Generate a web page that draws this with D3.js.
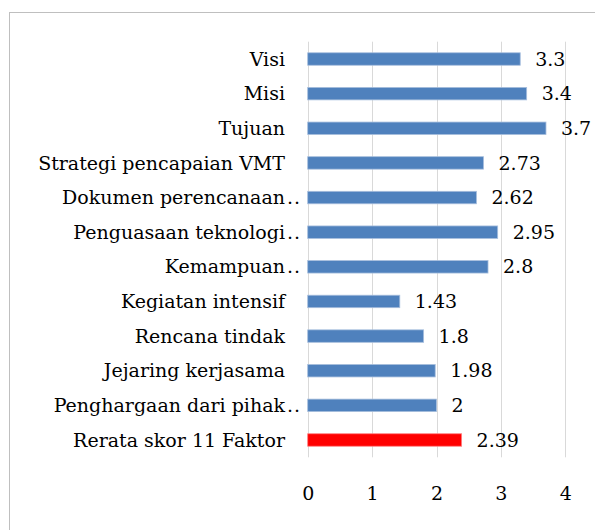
<!DOCTYPE html>
<html>
<head>
<meta charset="utf-8">
<script src="https://cdn.jsdelivr.net/npm/d3@7"></script>
<style>
  body { margin: 0; background: #fff; }
</style>
</head>
<body>
<script>
var categories = ["Visi", "Misi", "Tujuan", "Strategi pencapaian VMT", "Dokumen perencanaan..",
                  "Penguasaan teknologi..", "Kemampuan..", "Kegiatan intensif", "Rencana tindak",
                  "Jejaring kerjasama", "Penghargaan dari pihak..", "Rerata skor 11 Faktor"];
var values = [3.3, 3.4, 3.7, 2.73, 2.62, 2.95, 2.8, 1.43, 1.8, 1.98, 2, 2.39];
var valueLabels = ["3.3", "3.4", "3.7", "2.73", "2.62", "2.95", "2.8", "1.43", "1.8", "1.98", "2", "2.39"];
var ticks = [0, 1, 2, 3, 4];

var fontFam = "'DejaVu Serif', serif";
var fontSize = "19px";

var svg = d3.select("body").append("svg")
    .attr("width", 595)
    .attr("height", 530)
    .style("font-family", fontFam);

// chart frame (runs past the right and bottom edge)
svg.append("rect")
    .attr("x", 9.5).attr("y", 12.5)
    .attr("width", 620).attr("height", 560)
    .attr("fill", "#fff")
    .attr("stroke", "#bfbfbf");

var x = d3.scaleLinear().domain([0, 4]).range([307.7, 565.3]);
var y = d3.scaleBand().domain(categories).range([41.7, 457.3]).paddingInner(0.64).paddingOuter(0.32);

// gridlines
svg.selectAll("line.grid")
    .data(ticks)
    .enter().append("line")
        .attr("class", "grid")
        .attr("x1", function(d) { return Math.round(x(d)) + 0.5; })
        .attr("x2", function(d) { return Math.round(x(d)) + 0.5; })
        .attr("y1", 41.7)
        .attr("y2", 457.3)
        .attr("stroke", "#d9d9d9");

// bars
svg.selectAll("rect.bar")
    .data(values)
    .enter().append("rect")
        .attr("class", "bar")
        .attr("x", x(0))
        .attr("y", function(d, i) { return y(categories[i]); })
        .attr("width", function(d) { return x(d) - x(0); })
        .attr("height", y.bandwidth())
        .attr("fill", function(d, i) { return i == values.length - 1 ? "#ff0000" : "#4f81bd"; })
        .attr("stroke", function(d, i) { return i == values.length - 1 ? "#ff8080" : "#a7bedd"; })
        .attr("stroke-width", 0.8);

// category labels, trailing ".." hangs past the right edge
var labelX = 285;
var lab = svg.selectAll("g.lab")
    .data(categories)
    .enter().append("g")
        .attr("class", "lab");

lab.append("text")
    .attr("x", labelX)
    .attr("y", function(d) { return y(d) + y.bandwidth() / 2; })
    .attr("dy", "0.35em")
    .attr("text-anchor", "end")
    .style("font-size", fontSize)
    .text(function(d) { return d.replace(/\.\.$/, ""); });

lab.filter(function(d) { return /\.\.$/.test(d); }).append("text")
    .attr("x", labelX + 2)
    .attr("y", function(d) { return y(d) + y.bandwidth() / 2; })
    .attr("dy", "0.35em")
    .style("font-size", fontSize)
    .style("letter-spacing", "1px")
    .text("..");

// value labels
svg.selectAll("text.val")
    .data(values)
    .enter().append("text")
        .attr("class", "val")
        .attr("x", function(d) { return x(d) + 15; })
        .attr("y", function(d, i) { return y(categories[i]) + y.bandwidth() / 2; })
        .attr("dy", "0.35em")
        .style("font-size", fontSize)
        .text(function(d, i) { return valueLabels[i]; });

// x axis tick labels
var axis = d3.axisBottom(x).tickValues(ticks).tickSize(0).tickPadding(0).tickFormat(d3.format("d"));
var ax = svg.append("g")
    .attr("transform", "translate(0,493)")
    .call(axis);
ax.select(".domain").remove();
ax.selectAll("text")
    .attr("dy", "0.35em")
    .attr("fill", "#000")
    .style("font-family", fontFam)
    .style("font-size", fontSize);
</script>
</body>
</html>
